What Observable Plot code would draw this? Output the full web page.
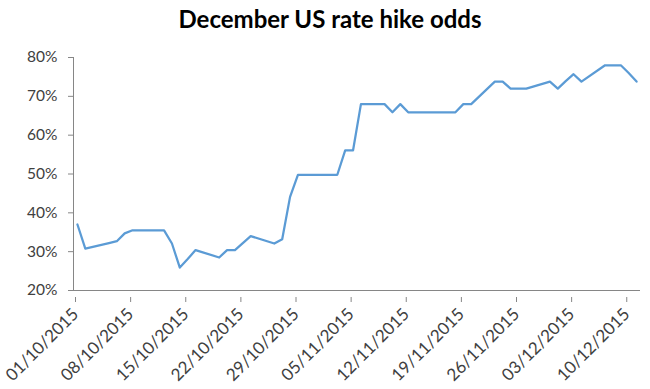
<!DOCTYPE html>
<html>
<head>
<meta charset="utf-8">
<script src="https://cdn.jsdelivr.net/npm/d3@7"></script>
<script src="https://cdn.jsdelivr.net/npm/@observablehq/plot@0.6"></script>
<style>
  html, body { margin: 0; padding: 0; background: #fff; }
  #wrap { position: relative; width: 650px; height: 389px; }
  #title { position: absolute; left: 0; top: 4px; width: 660px; text-align: center;
    font-family: Lato, "Open Sans", sans-serif; font-weight: bold; font-size: 24px; color: #000; }
</style>
</head>
<body>
<div id="wrap"><div id="title">December US rate hike odds</div></div>
<script>
const dates = [
  "2015-10-01","2015-10-02","2015-10-05","2015-10-06","2015-10-07","2015-10-08","2015-10-09",
  "2015-10-12","2015-10-13","2015-10-14","2015-10-15","2015-10-16",
  "2015-10-19","2015-10-20","2015-10-21","2015-10-22","2015-10-23",
  "2015-10-26","2015-10-27","2015-10-28","2015-10-29","2015-10-30",
  "2015-11-02","2015-11-03","2015-11-04","2015-11-05","2015-11-06",
  "2015-11-09","2015-11-10","2015-11-11","2015-11-12","2015-11-13",
  "2015-11-16","2015-11-17","2015-11-18","2015-11-19","2015-11-20",
  "2015-11-23","2015-11-24","2015-11-25","2015-11-26","2015-11-27",
  "2015-11-30","2015-12-01","2015-12-02","2015-12-03","2015-12-04",
  "2015-12-07","2015-12-08","2015-12-09","2015-12-10","2015-12-11"
];
const odds = [
  37, 30.8, 32.2, 32.7, 34.7, 35.5, 35.5,
  35.5, 32.1, 25.9, 28.1, 30.4,
  28.5, 30.4, 30.4, 32.2, 34.0,
  32.1, 33.2, 44.1, 49.8, 49.8,
  49.8, 49.8, 56.1, 56.1, 68,
  68, 65.9, 68, 65.9, 65.9,
  65.9, 65.9, 65.9, 68, 68,
  73.8, 73.8, 72, 72, 72,
  73.8, 72, 73.9, 75.7, 73.8,
  78, 78, 78, 76, 73.8
];
const yTicks = [0.2, 0.3, 0.4, 0.5, 0.6, 0.7, 0.8];
const xTickLabels = ["01/10/2015","08/10/2015","15/10/2015","22/10/2015","29/10/2015","05/11/2015",
  "12/11/2015","19/11/2015","26/11/2015","03/12/2015","10/12/2015"];

const parseDMY = s => { const [d, m, y] = s.split("/").map(Number); return new Date(Date.UTC(y, m - 1, d)); };
const xTicks = xTickLabels.map(parseDMY);
const HALF_DAY = 12 * 3600 * 1000;
const data = dates.map((d, i) => ({date: new Date(Date.parse(d + "T00:00:00Z") + HALF_DAY), value: odds[i] / 100}));

const axisColor = "#868686";
const textColor = "#404040";

const chart = Plot.plot({
  width: 650,
  height: 389,
  marginTop: 57,
  marginBottom: 99,
  marginLeft: 73,
  marginRight: 10,
  style: {fontFamily: "Lato, 'Open Sans', sans-serif", fontSize: "15.5px", color: textColor, background: "#fff"},
  x: {type: "utc", domain: [new Date(Date.UTC(2015, 9, 1)), new Date(Date.UTC(2015, 11, 12))]},
  y: {domain: [0.2, 0.8]},
  marks: [
    Plot.axisY({ticks: yTicks, tickFormat: d => Math.round(d * 100) + "%", tickSize: 5, stroke: axisColor, tickPadding: 11, label: null, strokeOpacity: 1, fontSize: 15.5}),
    Plot.axisX({ticks: xTicks, tickFormat: d => xTickLabels[xTicks.findIndex(t => +t === +d)], tickSize: 5, stroke: axisColor, strokeOpacity: 1,
      tickRotate: -45, tickPadding: 9, dx: 2, dy: 7, label: null, fill: textColor, fontSize: 17}),
    Plot.ruleX([new Date(Date.UTC(2015, 9, 1))], {stroke: axisColor}),
    Plot.ruleY([0.2], {stroke: axisColor}),
    Plot.lineY(data, {x: "date", y: "value", stroke: "#5B9BD5", strokeWidth: 2.25})
  ]
});
document.getElementById("wrap").appendChild(chart);
</script>
</body>
</html>
